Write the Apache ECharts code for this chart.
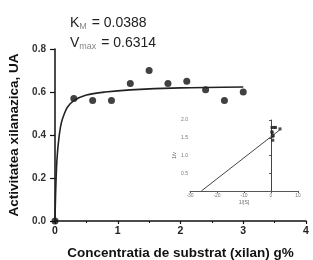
<!DOCTYPE html>
<html>
<head>
<meta charset="utf-8">
<script src="https://cdn.jsdelivr.net/npm/echarts@6/dist/echarts.min.js"></script>
<style>
html, body { margin: 0; padding: 0; background: #fff; }
#main { width: 313px; height: 260px; }
</style>
</head>
<body>
<div id="main"></div>
<script>
// date experimentale: concentratia substratului si activitatea
var substrat = [0, 0.3, 0.6, 0.9, 1.2, 1.5, 1.8, 2.1, 2.4, 2.7, 3.0]
var activitate = [0, 0.57, 0.56, 0.56, 0.64, 0.70, 0.64, 0.65, 0.61, 0.56, 0.60]

// curba Michaelis-Menten
var curbaX = [0, 0.01, 0.03, 0.06, 0.1, 0.15, 0.2, 0.3, 0.5, 0.8, 1.2, 2.0, 3.0]
var curbaY = [0, 0.13, 0.28, 0.38, 0.455, 0.50, 0.53, 0.56, 0.586, 0.60, 0.61, 0.619, 0.623]

// inset Lineweaver-Burk
var invS = [3.33, 1.67, 1.11, 0.83, 0.67, 0.56, 0.48, 0.42, 0.37, 0.33]
var invV = [1.75, 1.79, 1.79, 1.56, 1.43, 1.56, 1.54, 1.64, 1.79, 1.67]
var dreaptaX = [-25.8, 3.4]
var dreaptaY = [0, 1.73]

function perechi(a, b) {
    var r = []
    for (var i = 0; i < a.length; i++) r.push([a[i], b[i]])
    return r
}

var myChart = echarts.init(document.getElementById('main'))

var richTitlu = {
    k: { fontSize: 14, fontWeight: 'normal', color: '#222', fontFamily: 'Liberation Sans' },
    s: { fontSize: 9, fontWeight: 'normal', color: '#888', verticalAlign: 'bottom', padding: [7, 1, 0, 0] }
}

var option = {
    animation: false,
    title: [{
        left: 65, top: 10,
        text: '{k|K}{s|M}{k| = 0.0388}',
        textStyle: { fontWeight: 'normal', rich: richTitlu }
    }, {
        left: 65, top: 30,
        text: '{k|V}{s|max}{k| = 0.6314}',
        textStyle: { fontWeight: 'normal', rich: richTitlu }
    }],
    grid: [
        { left: 55, right: 7, top: 49, bottom: 39, outerBoundsMode: 'none' },
        { left: 190, right: 15, top: 120, bottom: 69, outerBoundsMode: 'none' }
    ],
    xAxis: [{
        gridIndex: 0,
        type: 'value', min: 0, max: 4, interval: 1,
        name: 'Concentratia de substrat (xilan) g%',
        nameLocation: 'middle', nameGap: 25,
        nameTextStyle: { fontSize: 13.5, fontWeight: 'bold', color: '#111', fontFamily: 'Liberation Sans' },
        axisLine: { lineStyle: { color: '#111', width: 1.5 } },
        axisTick: { length: 3, lineStyle: { color: '#111', width: 1.2 } },
        minorTick: { show: true, splitNumber: 2, length: 2, lineStyle: { color: '#111' } },
        axisLabel: { fontSize: 10.5, fontWeight: 'bold', color: '#222', margin: 5, fontFamily: 'Liberation Sans' },
        splitLine: { show: false }
    }, {
        gridIndex: 1,
        type: 'value', min: -30, max: 10, interval: 10,
        name: '1/[S]',
        nameLocation: 'middle', nameGap: 9,
        nameTextStyle: { fontSize: 5, color: '#666' },
        axisLine: { onZero: true, lineStyle: { color: '#555', width: 1 } },
        axisTick: { length: 2, lineStyle: { color: '#555' } },
        axisLabel: { fontSize: 5, color: '#777', margin: 2 },
        splitLine: { show: false }
    }],
    yAxis: [{
        gridIndex: 0,
        type: 'value', min: 0, max: 0.8, interval: 0.2,
        name: 'Activitatea xilanazica, UA',
        nameLocation: 'middle', nameGap: 27,
        nameTextStyle: { fontSize: 13.5, fontWeight: 'bold', color: '#111', fontFamily: 'Liberation Sans' },
        axisLine: { show: true, lineStyle: { color: '#111', width: 1.5 } },
        axisTick: { show: true, length: 5, lineStyle: { color: '#111', width: 1.2 } },
        axisLabel: {
            fontSize: 10, fontWeight: 'bold', color: '#333', margin: 9, fontFamily: 'Liberation Sans',
            formatter: function (v) { return v.toFixed(1) }
        },
        splitLine: { show: false }
    }, {
        gridIndex: 1,
        type: 'value', min: 0, max: 2, interval: 0.5,
        name: '1/v',
        nameLocation: 'middle', nameGap: 12,
        nameTextStyle: { fontSize: 5, color: '#666' },
        axisLine: { show: true, onZero: true, lineStyle: { color: '#444', width: 1 } },
        axisTick: { show: true, length: 2, lineStyle: { color: '#555' } },
        axisLabel: { fontSize: 5, color: '#777', margin: 2,
            formatter: function (v) { return v === 0 ? '' : v.toFixed(1) } },
        splitLine: { show: false }
    }],
    series: [{
        name: 'curba',
        type: 'line',
        xAxisIndex: 0, yAxisIndex: 0,
        smooth: 0.3,
        symbol: 'none',
        lineStyle: { color: '#222', width: 1.6 },
        data: perechi(curbaX, curbaY)
    }, {
        name: 'date',
        type: 'scatter',
        xAxisIndex: 0, yAxisIndex: 0,
        symbolSize: 7,
        itemStyle: { color: '#111' },
        data: perechi(substrat, activitate)
    }, {
        name: 'LB dreapta',
        type: 'line',
        xAxisIndex: 1, yAxisIndex: 1,
        symbol: 'none',
        lineStyle: { color: '#444', width: 1 },
        data: perechi(dreaptaX, dreaptaY)
    }, {
        name: 'LB date',
        type: 'scatter',
        xAxisIndex: 1, yAxisIndex: 1,
        symbol: 'rect',
        symbolSize: 3,
        itemStyle: { color: '#222' },
        data: perechi(invS, invV)
    }]
}

myChart.setOption(option)
</script>
</body>
</html>
